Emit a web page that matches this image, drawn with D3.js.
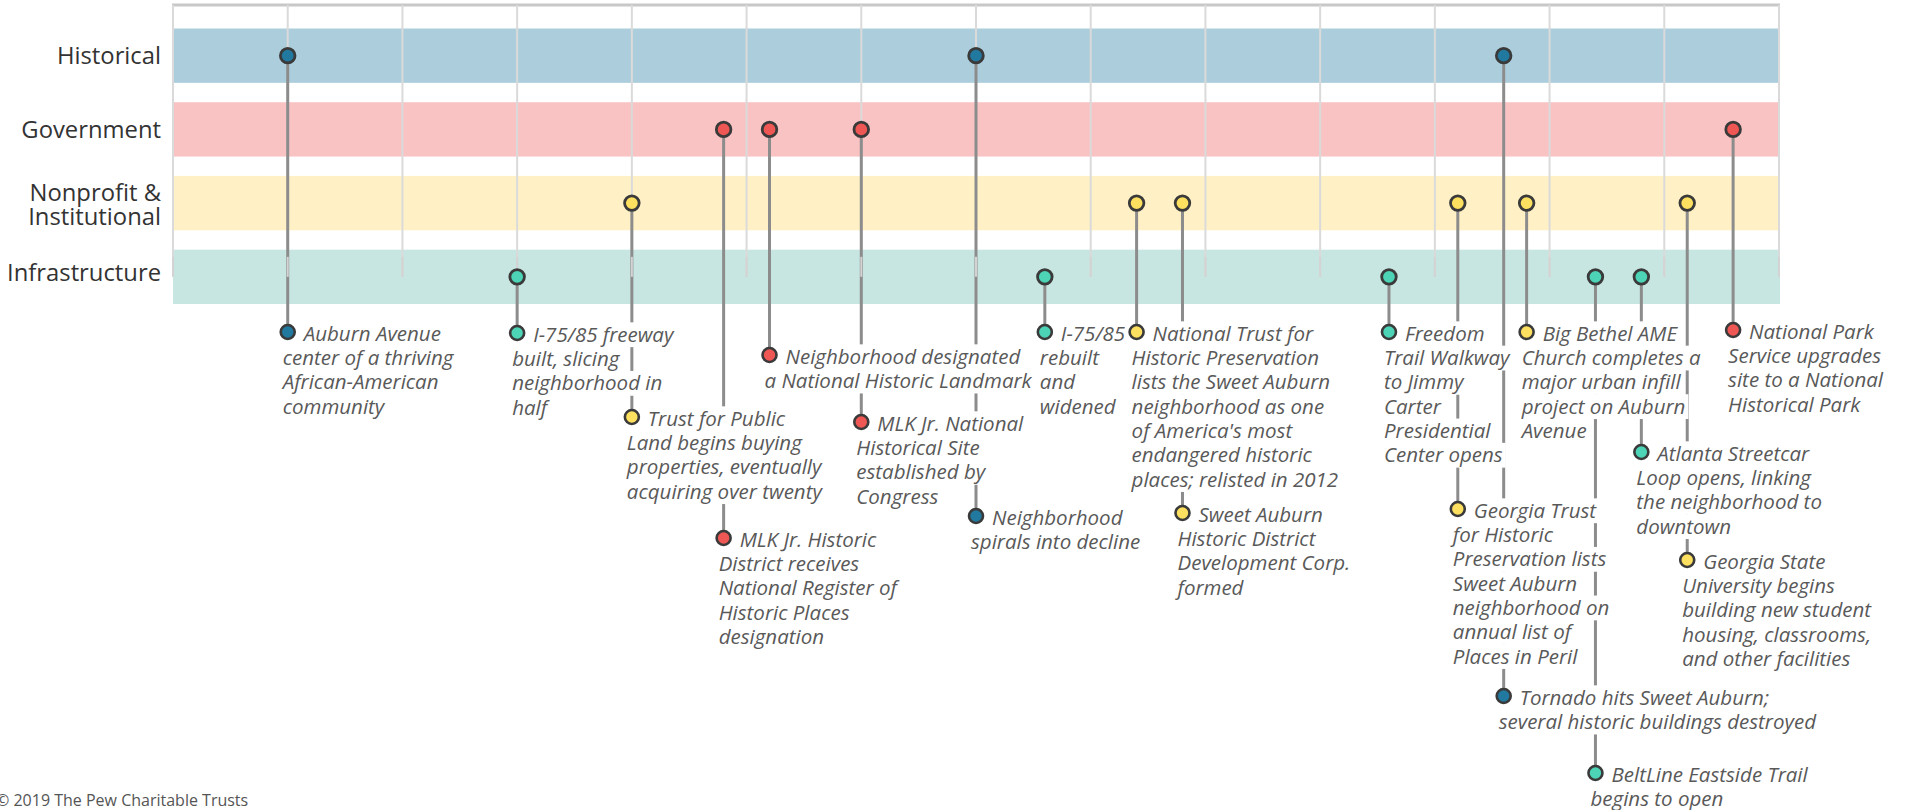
<!DOCTYPE html>
<html><head><meta charset="utf-8">
<script src="https://cdn.jsdelivr.net/npm/d3@7"></script>
<style>
html,body{margin:0;padding:0;background:#fff;}
svg{display:block;}
</style></head><body>
<svg id="chart" width="1912" height="810"></svg>
<script>
// ---------- data ----------
const categories = ["Historical", "Government", "Nonprofit & Institutional", "Infrastructure"];
const categoryLabels = [["Historical"], ["Government"], ["Nonprofit &", "Institutional"], ["Infrastructure"]];
const yearTicks = d3.range(1950, 2021, 5);
const eventYears = [1955, 1965, 1970, 1974, 1976, 1980, 1985, 1988, 1992, 1994, 2003, 2006, 2008, 2009, 2012, 2014, 2016, 2018];
const eventCategories = ["Historical", "Infrastructure", "Nonprofit & Institutional", "Government", "Government", "Government",
  "Historical", "Infrastructure", "Nonprofit & Institutional", "Nonprofit & Institutional", "Infrastructure",
  "Nonprofit & Institutional", "Historical", "Nonprofit & Institutional", "Infrastructure", "Infrastructure",
  "Nonprofit & Institutional", "Government"];
const eventTexts = [
  ["Auburn Avenue", "center of a thriving", "African-American", "community"],
  ["I-75/85 freeway", "built, slicing", "neighborhood in", "half"],
  ["Trust for Public", "Land begins buying", "properties, eventually", "acquiring over twenty"],
  ["MLK Jr. Historic", "District receives", "National Register of", "Historic Places", "designation"],
  ["Neighborhood designated", "a National Historic Landmark"],
  ["MLK Jr. National", "Historical Site", "established by", "Congress"],
  ["Neighborhood", "spirals into decline"],
  ["I-75/85", "rebuilt", "and", "widened"],
  ["National Trust for", "Historic Preservation", "lists the Sweet Auburn", "neighborhood as one", "of America's most", "endangered historic", "places; relisted in 2012"],
  ["Sweet Auburn", "Historic District", "Development Corp.", "formed"],
  ["Freedom", "Trail Walkway", "to Jimmy", "Carter", "Presidential", "Center opens"],
  ["Georgia Trust", "for Historic", "Preservation lists", "Sweet Auburn", "neighborhood on", "annual list of", "Places in Peril"],
  ["Tornado hits Sweet Auburn;", "several historic buildings destroyed"],
  ["Big Bethel AME", "Church completes a", "major urban infill", "project on Auburn", "Avenue"],
  ["BeltLine Eastside Trail", "begins to open"],
  ["Atlanta Streetcar", "Loop opens, linking", "the neighborhood to", "downtown"],
  ["Georgia State", "University begins", "building new student", "housing, classrooms,", "and other facilities"],
  ["National Park", "Service upgrades", "site to a National", "Historical Park"]
];
const copyright = "\u00A9 2019 The Pew Charitable Trusts";

// ---------- layout (annotation placement, pixels) ----------
const labelY = [332, 333, 417, 538, 355, 422, 516, 332, 332, 513, 332, 509, 696, 332, 773, 452, 560, 330];
const labelDy = [0, 0, 1.5, -4.5];

// ---------- styles ----------
const bandColor = d3.scaleOrdinal(categories, ["#accddc", "#f9c3c3", "#fff1c5", "#c8e6e1"]);
const dotColor = d3.scaleOrdinal(categories, ["#21799f", "#ee5754", "#fde05f", "#4dd3b5"]);

const svg = d3.select("#chart");
const x = d3.scaleLinear().domain([1950, 2020]).range([173, 1779]);
const y = d3.scaleBand().domain(categories).range([28.5, 304]).paddingInner(0.263).paddingOuter(0);
const yc = c => y(c) + y.bandwidth() / 2;
const infraY = yc("Infrastructure");

// bands
svg.append("g").selectAll("rect").data(categories).join("rect")
  .attr("x", x(1950)).attr("width", x(2020) - x(1950) + 1)
  .attr("y", d => y(d)).attr("height", y.bandwidth())
  .attr("fill", d => bandColor(d));

// top border
svg.append("line").attr("x1", x(1950) - 1).attr("x2", x(2020) + 1).attr("y1", 5).attr("y2", 5)
  .attr("stroke", "#c8c8c8").attr("stroke-width", 3);

// gridlines
svg.append("g").selectAll("line").data(yearTicks).join("line")
  .attr("x1", d => x(d)).attr("x2", d => x(d)).attr("y1", 5).attr("y2", infraY)
  .attr("stroke", "#dadada").attr("stroke-width", 2);

// events
const events = eventYears.map((yr, i) => ({ year: yr, cat: eventCategories[i], lines: eventTexts[i], ly: labelY[i] }));

// stems
svg.append("g").selectAll("line").data(events).join("line")
  .attr("x1", d => x(d.year)).attr("x2", d => x(d.year))
  .attr("y1", d => yc(d.cat)).attr("y2", d => d.ly)
  .attr("stroke", "#8c8c8c").attr("stroke-width", 3);

// light tick overlay in infrastructure band
svg.append("g").selectAll("line").data(yearTicks).join("line")
  .attr("x1", d => x(d)).attr("x2", d => x(d)).attr("y1", infraY - 20).attr("y2", infraY)
  .attr("stroke", "#d3d3d3").attr("stroke-width", 2);

// category dots
svg.append("g").selectAll("circle").data(events).join("circle")
  .attr("cx", d => x(d.year)).attr("cy", d => yc(d.cat)).attr("r", 7.3)
  .attr("fill", d => dotColor(d.cat)).attr("stroke", "#3a3a3a").attr("stroke-width", 2.8);

// category labels
const lab = svg.append("g").attr("font-family", "'Open Sans', 'Noto Sans', sans-serif")
  .attr("font-size", 23.8).attr("fill", "#333").attr("text-anchor", "end");
categories.forEach((c, i) => {
  const ls = categoryLabels[i];
  const lh = 24.2;
  ls.forEach((t, j) => {
    const cy = yc(c) + labelDy[i] + (j - (ls.length - 1) / 2) * lh;
    lab.append("text").attr("x", 161).attr("y", cy + 8.5).text(t);
  });
});

// annotations
const FS = 20.5, LH = 24.3;
const ann = svg.append("g");
const bgG = ann.append("g");
const txG = ann.append("g").attr("font-family", "'Open Sans', 'Noto Sans', sans-serif")
  .attr("font-style", "italic").attr("font-size", FS).attr("fill", "#595959");
events.forEach(d => {
  const dx = x(d.year);
  d.lines.forEach((t, j) => {
    const tx = j === 0 ? dx + 16 : dx - 5;
    const cy = d.ly + 1.5 + j * LH;
    const node = txG.append("text").attr("x", tx).attr("y", cy + 7.3).text(t);
    const w = node.node().getComputedTextLength();
    bgG.append("rect").attr("x", tx - 2).attr("y", cy - LH / 2).attr("width", w + 5).attr("height", LH + 0.5)
      .attr("fill", "#fff");
  });
});
ann.append("g").selectAll("circle").data(events).join("circle")
  .attr("cx", d => x(d.year)).attr("cy", d => d.ly).attr("r", 7)
  .attr("fill", d => dotColor(d.cat)).attr("stroke", "#3a3a3a").attr("stroke-width", 2.6);

// copyright
svg.append("text").attr("x", -4).attr("y", 806).attr("font-family", "'Open Sans', 'Noto Sans', sans-serif")
  .attr("font-size", 16).attr("fill", "#555").text(copyright);
</script>
</body></html>
